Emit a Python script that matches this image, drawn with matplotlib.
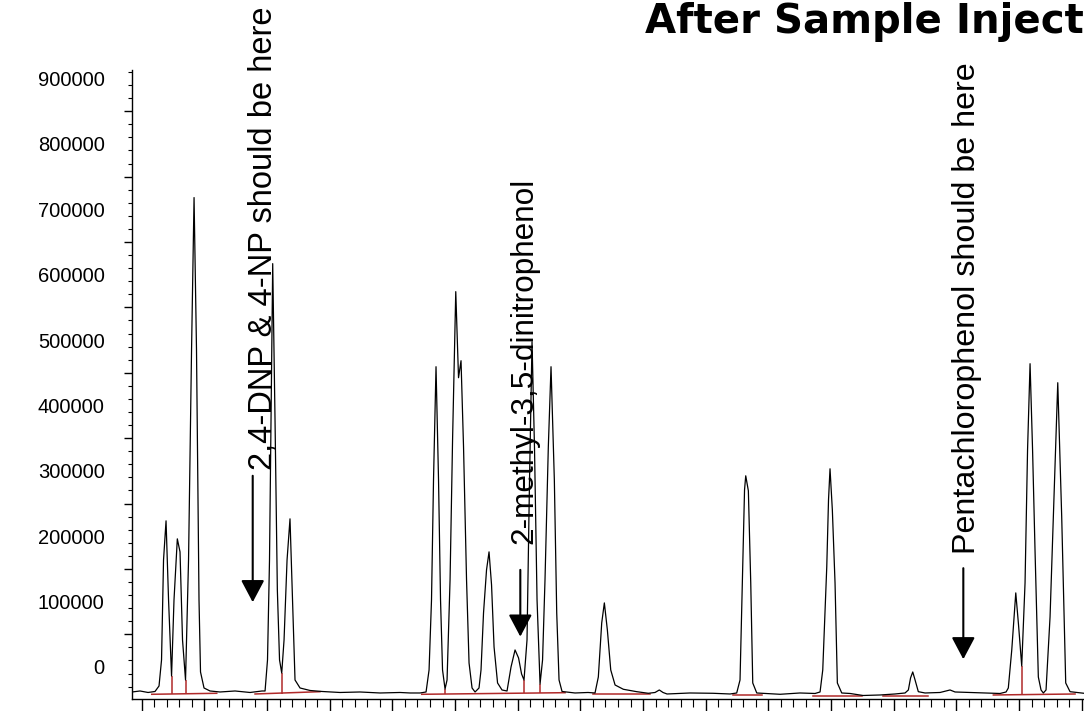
import matplotlib
matplotlib.use("Agg")
import matplotlib.pyplot as plt
from matplotlib.ticker import FixedLocator, NullFormatter

plt.rcParams['font.family'] = ['Liberation Sans', 'DejaVu Sans']

# chromatogram trace (time in min, signal in counts)
times = [2.845, 2.973, 3.101, 3.212, 3.276, 3.316, 3.348, 3.388, 3.428, 3.476,
         3.515, 3.568, 3.611, 3.651, 3.699, 3.747, 3.795, 3.835, 3.874, 3.914,
         3.938, 3.994, 4.090, 4.249, 4.489, 4.728, 4.920, 4.968, 5.007, 5.039,
         5.063, 5.090, 5.127, 5.164, 5.199, 5.234, 5.271, 5.319, 5.366, 5.406,
         5.446, 5.526, 5.686, 5.877, 6.164, 6.483, 6.803, 7.122, 7.281, 7.441,
         7.537, 7.585, 7.624, 7.656, 7.696, 7.736, 7.768, 7.800, 7.840, 7.872,
         7.920, 7.960, 8.011, 8.055, 8.095, 8.135, 8.183, 8.223, 8.271, 8.319,
         8.382, 8.414, 8.454, 8.502, 8.542, 8.582, 8.622, 8.678, 8.749, 8.829,
         8.893, 8.957, 9.013, 9.061, 9.100, 9.148, 9.188, 9.228, 9.268, 9.308,
         9.356, 9.396, 9.435, 9.488, 9.531, 9.584, 9.622, 9.659, 9.707, 9.914,
         10.122, 10.233, 10.286, 10.340, 10.382, 10.430, 10.484, 10.553, 10.685, 10.899,
         11.084, 11.191, 11.259, 11.318, 11.382, 11.749, 12.116, 12.388, 12.494, 12.547,
         12.584, 12.619, 12.638, 12.680, 12.718, 12.750, 12.814, 13.186, 13.504, 13.744,
         13.824, 13.867, 13.931, 13.959, 13.983, 14.020, 14.063, 14.100, 14.170, 14.303,
         14.510, 14.781, 15.020, 15.180, 15.233, 15.268, 15.303, 15.340, 15.392, 15.499,
         15.739, 15.898, 15.978, 16.217, 16.457, 16.696, 16.792, 16.828, 16.883, 16.947,
         16.991, 17.042, 17.095, 17.135, 17.175, 17.215, 17.254, 17.307, 17.350, 17.387,
         17.430, 17.494, 17.547, 17.617, 17.680, 17.744, 17.813, 18.036, 18.290]
signal = [-38270, -36740, -39030, -37500, -29080, 10715, 163780, 223480, 102560, -13780,
          102560, 195930, 176030, 41330, -19900, 163780, 485230, 717900, 485230, 102560,
          -7650, -32150, -36740, -38270, -36740, -39030, -36740, -36740, 10715, 163780,
          378080, 616870, 378080, 117860, 10715, -9180, 41330, 163780, 226540, 102560,
          -19900, -32150, -35970, -37500, -39030, -38270, -39800, -39030, -39800, -39800,
          -38270, -4590, 102560, 286240, 459210, 286240, 102560, -4590, -33680, -19900,
          133170, 347470, 574010, 442370, 468390, 336750, 133170, 6120, -32150, -38270,
          -32150, -4590, 82660, 148480, 176030, 125520, 30610, -24490, -35200, -36740,
          0, 26020, 13780, -10715, -19900, 41330, 286240, 497480, 332160, 102560,
          -26020, 10715, 133170, 336750, 459210, 286240, 82660, -19900, -37500, -39800,
          -39030, -39800, -15310, 67350, 97960, 56640, -4590, -27550, -34130, -37810,
          -40260, -39030, -35200, -39030, -41330, -39800, -40260, -41330, -39800, -19900,
          128580, 270930, 292360, 269400, 128580, -24490, -39800, -41790, -39800, -40560,
          -38270, -4590, 153070, 255630, 303080, 240320, 128580, -24490, -39800, -40560,
          -43630, -42860, -41330, -39800, -35200, -16840, -7650, -19900, -37810, -39800,
          -39030, -35200, -38270, -39030, -39800, -40560, -38270, -32150, 26020, 113270,
          64290, 1530, 128580, 332160, 463800, 332160, 179090, -15310, -35200, -39800,
          -35200, 76540, 229610, 434720, 229610, -24490, -37810, -40260, -39800]

# integration baselines (red)
base_t0 = [3.160, 4.808, 7.468, 10.206, 12.440, 13.717, 14.834, 16.589]
base_v0 = [-41790, -41330, -41790, -41790, -42860, -43930, -43930, -42860]
base_t1 = [4.197, 5.845, 9.755, 11.111, 12.893, 14.489, 15.552, 17.893]
base_v1 = [-40260, -37810, -39340, -41790, -42860, -43930, -43930, -41330]
drop_t = [3.476, 3.699, 5.234, 7.840, 9.100, 9.356, 17.042]
drop_top = [-13780, -19900, -9180, -33680, -19900, -26020, 1530]
drop_bot = [-41790, -41790, -41330, -41790, -40260, -40260, -42860]

y_label_vals = [0, 100000, 200000, 300000, 400000, 500000, 600000, 700000, 800000, 900000]
y_labels = ['0', '100000', '200000', '300000', '400000', '500000',
            '600000', '700000', '800000', '900000']

# annotations: text, text anchor, arrow x, arrow start, arrow tip
notes = ['2,4-DNP & 4-NP should be here', '2-methyl-3,5-dinitrophenol',
         'Pentachlorophenol should be here']
note_x = [5.063, 9.228, 16.297]
note_y = [301550, 188280, 172970]
note_size = [23.5, 22.7, 23.2]
arrow_x = [4.771, 9.041, 16.110]
arrow_start = [292400, 148500, 151080]
arrow_tip = [99040, 46380, 11790]

fig = plt.figure(figsize=(10.84, 7.11), dpi=100)
ax = fig.add_axes([131.7 / 1084, 12 / 711, 1075.4 / 1084, 629 / 711])

ax.plot(times, signal, color='black', lw=0.9, zorder=3)
for i in range(len(base_t0)):
    ax.plot([base_t0[i], base_t1[i]], [base_v0[i], base_v1[i]], color='#b02a2a', lw=1.1, zorder=2)
ax.vlines(drop_t, drop_bot, drop_top, color='#b02a2a', lw=1.1, zorder=2)

ax.set_xlim(2.84, 20)
ax.set_ylim(-49000, 913000)

for s in ['top', 'right']:
    ax.spines[s].set_visible(False)
ax.spines['left'].set_linewidth(1.0)
ax.spines['bottom'].set_linewidth(1.0)

# x ticks (labels are off the bottom of the picture)
ax.xaxis.set_major_locator(FixedLocator([3 + k for k in range(17)]))
ax.xaxis.set_minor_locator(FixedLocator([2.8 + 0.2 * k for k in range(86)]))
ax.tick_params(axis='x', which='major', length=10, width=1, direction='out', labelbottom=False)
ax.tick_params(axis='x', which='minor', length=5.5, width=0.8, direction='out')

# y tick marks sit half a step above the labels
ax.yaxis.set_major_locator(FixedLocator([50000 + 100000 * k for k in range(9)]))
ax.yaxis.set_minor_locator(FixedLocator([-30000 + 20000 * k for k in range(48)]))
ax.yaxis.set_major_formatter(NullFormatter())
ax.tick_params(axis='y', which='major', length=5.8, width=1, direction='out')
ax.tick_params(axis='y', which='minor', length=2.6, width=0.8, direction='out')

lab = ax.secondary_yaxis('left')
lab.spines['left'].set_visible(False)
lab.set_yticks(y_label_vals, y_labels)
lab.tick_params(axis='y', length=0, pad=19.5, labelsize=14.5)

for i in range(len(notes)):
    ax.text(note_x[i], note_y[i], notes[i], rotation=90, rotation_mode='anchor',
            ha='left', va='baseline', fontsize=note_size[i], zorder=4)
    ax.annotate('', xy=(arrow_x[i], arrow_tip[i]), xytext=(arrow_x[i], arrow_start[i]),
                arrowprops=dict(arrowstyle='-|>,head_length=0.68,head_width=0.36',
                                mutation_scale=20, lw=1.5, color='black',
                                shrinkA=0, shrinkB=0), zorder=4)

# the title runs off the right edge, as in the source picture
fig.text(645 / 1084, 1 - 33 / 711, 'After Sample Injection', fontsize=29,
         fontweight='bold', family='DejaVu Sans', ha='left', va='baseline')

fig.savefig('out.png', dpi=100)
